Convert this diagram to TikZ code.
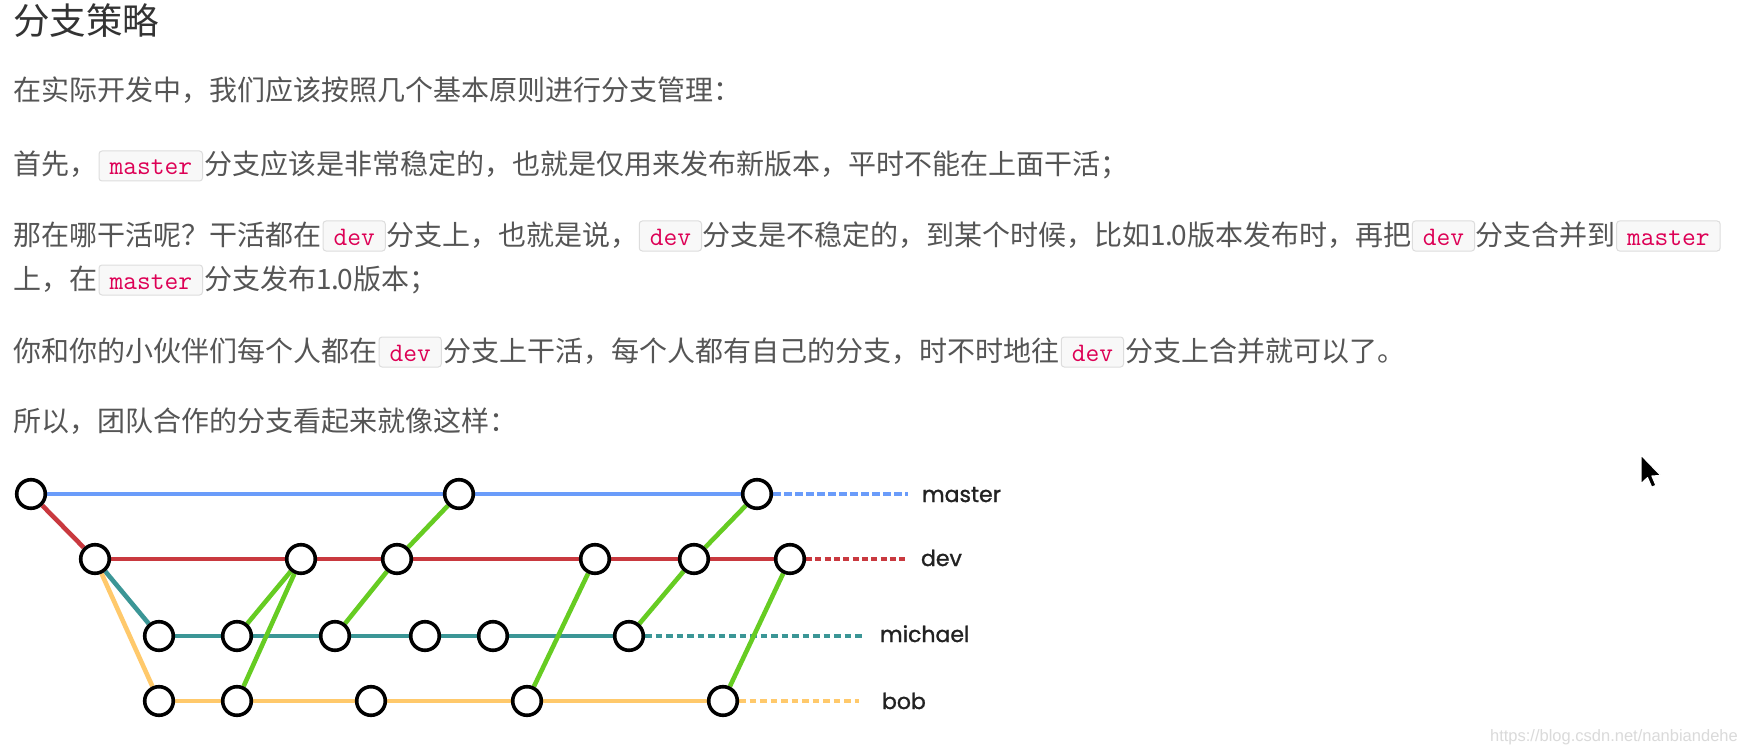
\documentclass[tikz,border=0pt]{standalone}
\usepackage{fontspec}
\newfontfamily\cjk{Noto Sans CJK SC}
\newfontfamily\labfont{Poppins}[FakeBold=1.2]
\newfontfamily\wmfont{Liberation Sans}
\definecolor{cblue}{HTML}{6A9CFA}
\definecolor{cred}{HTML}{C9393F}
\definecolor{cteal}{HTML}{3B9696}
\definecolor{corange}{HTML}{FFC96B}
\definecolor{cgreen}{HTML}{66CC22}
\definecolor{bodygray}{HTML}{555555}
\definecolor{titlegray}{HTML}{333333}
\definecolor{codered}{HTML}{DD0055}
\definecolor{codebg}{HTML}{F8F8F8}
\definecolor{codeborder}{HTML}{DDDDDD}
\definecolor{labgray}{HTML}{222222}
\definecolor{wmgray}{HTML}{DADADA}
\pgfdeclarelayer{paper}
\pgfdeclarelayer{edges}
\pgfsetlayers{paper,edges,main}
\begin{document}
\begin{tikzpicture}[x=1pt,y=-1pt,
  txt/.style={anchor=base west, inner sep=0pt, outer sep=0pt, text=bodygray,
    font=\cjk\fontsize{28pt}{34pt}\selectfont},
  titletxt/.style={anchor=base west, inner sep=0pt, outer sep=0pt, text=titlegray,
    font=\cjk\fontsize{36.5pt}{42pt}\selectfont},
  codebox/.style={anchor=base west, inner xsep=10.5pt, inner ysep=0pt, outer sep=0pt,
    text height=24pt, text depth=6pt, draw=codeborder, fill=codebg, line width=1pt,
    rounded corners=3pt, text=codered, font=\ttfamily\fontsize{26.7pt}{30pt}\selectfont},
  commit/.style={circle, draw=black, fill=white, line width=3.6pt, minimum size=28.6pt, inner sep=0pt},
  branch/.style={line width=4.6pt},
  merge/.style={line width=4.6pt, draw=cgreen},
  lab/.style={anchor=base west, inner sep=0pt, outer sep=0pt, text=labgray,
    font=\labfont\fontsize{22pt}{26pt}\selectfont}]
\begin{pgfonlayer}{paper}
\useasboundingbox[fill=white] (0,0) rectangle (1748,754);
\end{pgfonlayer}

% ---- text ----
\node[titletxt] (title) at (13,35) {分支策略};
\node[txt] (l1) at (13,101) {在实际开发中，我们应该按照几个基本原则进行分支管理：};

\node[txt] (l2a) at (13,175) {首先，};
\node[codebox] (l2b) at ([xshift=2pt]l2a.base east) {master};
\node[txt] (l2c) at ([xshift=2pt]l2b.base east) {分支应该是非常稳定的，也就是仅用来发布新版本，平时不能在上面干活；};

\node[txt] (l3a) at (13,245) {那在哪干活呢？干活都在};
\node[codebox] (l3b) at ([xshift=2pt]l3a.base east) {dev};
\node[txt] (l3c) at ([xshift=1pt]l3b.base east) {分支上，也就是说，};
\node[codebox] (l3d) at ([xshift=1pt]l3c.base east) {dev};
\node[txt] (l3e) at ([xshift=1pt]l3d.base east) {分支是不稳定的，到某个时候，比如1\kern-1pt.\kern-1pt0版本发布时，再把};
\node[codebox] (l3f) at ([xshift=1pt]l3e.base east) {dev};
\node[txt] (l3g) at ([xshift=1pt]l3f.base east) {分支合并到};
\node[codebox] (l3h) at ([xshift=1pt]l3g.base east) {master};

\node[txt] (l4a) at (13,289) {上，在};
\node[codebox] (l4b) at ([xshift=2pt]l4a.base east) {master};
\node[txt] (l4c) at ([xshift=2pt]l4b.base east) {分支发布1\kern-1pt.\kern-1pt0版本；};

\node[txt] (l5a) at (13,361) {你和你的小伙伴们每个人都在};
\node[codebox] (l5b) at ([xshift=2pt]l5a.base east) {dev};
\node[txt] (l5c) at ([xshift=2pt]l5b.base east) {分支上干活，每个人都有自己的分支，时不时地往};
\node[codebox] (l5d) at ([xshift=2pt]l5c.base east) {dev};
\node[txt] (l5e) at ([xshift=2pt]l5d.base east) {分支上合并就可以了。};

\node[txt] (l6) at (13,431) {所以，团队合作的分支看起来就像这样：};

% ---- commits ----
\node[commit] (m1) at (31,494) {};
\node[commit] (m2) at (459,494) {};
\node[commit] (m3) at (757,494) {};
\node[commit] (d1) at (95,559) {};
\node[commit] (d2) at (301,559) {};
\node[commit] (d3) at (397,559) {};
\node[commit] (d4) at (595,559) {};
\node[commit] (d5) at (694,559) {};
\node[commit] (d6) at (790,559) {};
\node[commit] (c1) at (159,636) {};
\node[commit] (c2) at (237,636) {};
\node[commit] (c3) at (335,636) {};
\node[commit] (c4) at (425,636) {};
\node[commit] (c5) at (493,636) {};
\node[commit] (c6) at (629,636) {};
\node[commit] (b1) at (159,701) {};
\node[commit] (b2) at (237,701) {};
\node[commit] (b3) at (371,701) {};
\node[commit] (b4) at (527,701) {};
\node[commit] (b5) at (723,701) {};

\coordinate (mE) at (908,494);
\coordinate (dE) at (905,559);
\coordinate (cE) at (863,636);
\coordinate (bE) at (859,701);

\node[lab] (lm) at (922,502) {master};
\node[lab] (ld) at (921,566) {dev};
\node[lab] (lc) at (880,642) {michael};
\node[lab] (lb) at (882,709) {bob};

% ---- connectors ----
\begin{pgfonlayer}{edges}
\draw[branch, cblue] (m1) -- (m2) -- (m3);
\draw[branch, cblue, dash pattern=on 7.5pt off 3.5pt] (m3) -- (mE);
\draw[branch, cred] (m1) -- (d1);
\draw[branch, cred] (d1) -- (d2) -- (d3) -- (d4) -- (d5) -- (d6);
\draw[branch, cred, dash pattern=on 6pt off 3.3pt] (d6) -- (dE);
\draw[branch, cteal] (d1) -- (c1);
\draw[branch, cteal] (c1) -- (c2) -- (c3) -- (c4) -- (c5) -- (c6);
\draw[branch, cteal, dash pattern=on 6.5pt off 4pt] (c6) -- (cE);
\draw[branch, corange] (d1) -- (b1);
\draw[branch, corange] (b1) -- (b2) -- (b3) -- (b4) -- (b5);
\draw[branch, corange, dash pattern=on 6.5pt off 4pt] (b5) -- (bE);
\draw[merge] (c2) -- (d2);
\draw[merge] (b2) -- (d2);
\draw[merge] (c3) -- (d3);
\draw[merge] (d3) -- (m2);
\draw[merge] (b4) -- (d4);
\draw[merge] (c6) -- (d5);
\draw[merge] (d5) -- (m3);
\draw[merge] (b5) -- (d6);
\end{pgfonlayer}

% ---- mouse pointer ----
\begin{scope}[shift={(1641,455)}, scale=1.8]
\filldraw[fill=black, draw=white, line width=1.2pt, line join=round]
  (0,0) -- (0,16) -- (3.6,12.6) -- (5.9,17.9) -- (8.3,16.9) -- (6.1,11.7) -- (11,11.4) -- cycle;
\end{scope}

% ---- watermark ----
\node[anchor=base east, inner sep=0pt, text=wmgray, font=\wmfont\fontsize{16.5pt}{20pt}\selectfont] (wm) at (1738,741) {https://blog.csdn.net/nanbiandehe};
\end{tikzpicture}
\end{document}
